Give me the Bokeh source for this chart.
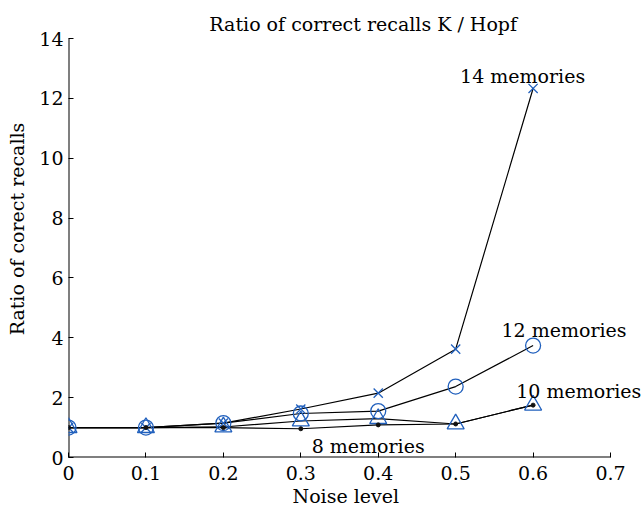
from bokeh.plotting import figure
from bokeh.embed import file_html
from bokeh.resources import INLINE
from bokeh.models import Range1d, FixedTicker, Label, Title

noise = [0.0, 0.1, 0.2, 0.3, 0.4, 0.5, 0.6]
mem14 = [1.0, 1.0, 1.15, 1.62, 2.15, 3.62, 12.33]
mem12 = [1.0, 1.0, 1.15, 1.47, 1.55, 2.37, 3.74]
mem10 = [1.0, 1.0, 1.02, 1.22, 1.30, 1.12, 1.75]
mem8 = [1.0, 1.0, 1.0, 0.96, 1.09, 1.12, 1.75]

x_ticks = [0, 0.1, 0.2, 0.3, 0.4, 0.5, 0.6, 0.7]
y_ticks = [0, 2, 4, 6, 8, 10, 12, 14]
x_axis_end = 0.7
y_axis_end = 14

labels = ["14 memories", "12 memories", "10 memories", "8 memories"]
label_x = [0.5865, 0.640, 0.659, 0.387]
label_y = [12.76, 4.27, 2.22, 0.37]

title_text = "Ratio of correct recalls K / Hopf"
title_x = 0.3806
title_y = 14.50

FONT = "DejaVu Serif"
BLUE = "#2160bd"
FS = "19px"

# frame extends to the right and top window edges so that annotations are not
# clipped; the visible axis lines are drawn only up to 0.7 and 14
p = figure(width=641, height=510, output_backend="svg", toolbar_location=None,
           x_range=Range1d(0, 0.74), y_range=Range1d(0, 15.27),
           min_border_left=68, min_border_right=0, min_border_top=0, min_border_bottom=53)
p.outline_line_color = None
p.xgrid.visible = False
p.ygrid.visible = False
p.background_fill_color = "white"
p.border_fill_color = "white"

for ax in (p.xaxis[0], p.yaxis[0]):
    ax.major_tick_in = 5
    ax.major_tick_out = 0
    ax.minor_tick_line_color = None
    ax.major_label_text_font = FONT
    ax.major_label_text_font_size = FS
    ax.major_label_text_color = "black"
    ax.axis_label_text_font = FONT
    ax.axis_label_text_font_size = FS
    ax.axis_label_text_font_style = "normal"
    ax.axis_label_text_color = "black"
    ax.axis_line_color = None
    ax.major_tick_line_color = "black"

p.xaxis.ticker = FixedTicker(ticks=x_ticks)
p.yaxis.ticker = FixedTicker(ticks=y_ticks)
p.xaxis.major_label_overrides = {0: "0", 0.1: "0.1", 0.2: "0.2", 0.3: "0.3", 0.4: "0.4", 0.5: "0.5", 0.6: "0.6", 0.7: "0.7"}
p.yaxis.axis_label = "Ratio of corect recalls"
p.xaxis.major_label_standoff = 8
p.yaxis.major_label_standoff = 5
p.yaxis.axis_label_standoff = 8

xlab = Title(text="Noise level", align="left", offset=224, standoff=0,
             text_font=FONT, text_font_size=FS, text_font_style="normal", text_color="black")
p.add_layout(xlab, "below")

# axis lines from 0 to 0.7 and from 0 to 14
p.segment(x0=[0, 0], y0=[0, 0], x1=[x_axis_end, 0], y1=[0, y_axis_end], line_color="black", line_width=2)

for ys in (mem14, mem12, mem10, mem8):
    p.line(noise, ys, line_color="black", line_width=1.2)

p.scatter(noise, mem14, marker="x", size=13, line_color=BLUE, line_width=1.3)
p.scatter(noise, mem12, marker="circle", size=15, line_color=BLUE, fill_color=None, line_width=1.3)
p.scatter(noise, mem10, marker="triangle", size=17, line_color=BLUE, fill_color=None, line_width=1.3)
p.scatter(noise, mem8, marker="circle", size=4, line_color="#111111", fill_color="#111111")

for t, lx, ly in zip(labels, label_x, label_y):
    p.add_layout(Label(x=lx, y=ly, text=t, text_font=FONT, text_font_size=FS,
                       text_align="center", text_baseline="alphabetic", text_color="black"))

p.add_layout(Label(x=title_x, y=title_y, text=title_text, text_font=FONT, text_font_size=FS,
                   text_align="center", text_baseline="alphabetic", text_color="black"))

open("out.html", "w").write(file_html(p, INLINE))
